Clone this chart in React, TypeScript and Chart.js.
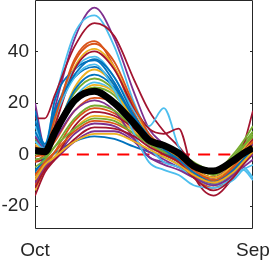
import React, { useEffect, useRef } from "react";
import { Chart, registerables } from "chart.js";

Chart.register(...registerables);

// months since October (Oct = 0, Sep = 11)
const monthPos = [0, 0.5, 1, 2, 3, 4, 5, 5.75, 6.5, 7.25, 8, 9, 10, 10.5, 11];
const xTickPos = [0, 11];
const xTickLabels = ["Oct", "Sep"];
const yTicks = [-20, 0, 20, 40];
const yMin = -28.8;
const yMax = 60;
const zeroLineX = [0, 11];
const zeroLineY = [0, 0];

const meanSeries = [1.5, 1, 8.5, 21, 24.5, 20, 12, 5.5, 3.5, 0.5, -4.5, -6.5, -2.5, 0.3, 2.5];

const s00 = [-6, -3, 0.5, 5, 7, 6, 3, 1, -1, -4, -8, -10, -7, -3, 0];
const s01 = [3, 2, 14, 37, 44, 34, 16, 7, 3, -1, -7, -11, -6, -2, 4];
const s02 = [-9, -3, 7, 26, 33, 27, 14, 6, 2, -2, -7, -9, -4, 0, 6];
const s03 = [20, 3, 18, 45, 57, 45, 24, 10, 4, -1, -8, -12, -7, -3, 2];
const s04 = [6, 2, 8, 21, 26, 23, 13, 6, 3, 1, -3, -6, -1, 4, 9];
const s05 = [11, 4, 21, 47, 54, 42, 20, 8, 2, -3, -9, -11, -9, -5, -9];
const s06 = [14, 14, 23, 42, 51, 46, 29, 17, 9, 3, -4, -12, -6, 3, 17];
const s07 = [17, 2, 21, 33, 36.5, 28, 13, 5, 1, -2, -7, -10, -5, 0, 3];
const s08 = [-12, -5, 1, 13, 18, 16, 10, 5, 1, -2, -6, -9, -5, -1, 4];
const s09 = [4, 1, 12, 34, 41, 34, 18, 7, 2, -1, -5, -8, -3, 2, 7];
const s10 = [-10, -4, -1, 8, 12, 11, 6, 1, -2, -5, -8, -11, -8, -5, -2];
const s11 = [0, 0, 9, 24, 29.5, 25, 13, 6, 2, -1, -4, -7, 0, 5, 11];
const s12 = [8, 2, 16, 33, 38, 30, 17, 11, 18, 3, -6, -12, -8, -6, -10];
const s13 = [-3, -1, 11, 33, 40, 33, 18, 10, 8, 10, -8, -16, -9, -3, 5];
const s14 = [-7, -1, 8, 25, 31, 26, 14, 6, 2, -2, -8, -11, -6, -2, 1];
const s15 = [-3, 0, 5, 17, 22, 20, 12, 5, 1, -3, -9, -13, -8, -3, 3];
const s16 = [-14, -6, -1, 10, 15, 14, 9, 4, 0, -3, -7, -10, -5, -1, 3];
const s17 = [7, 2, 6, 17, 21, 17, 6, -1, -3, -5, -8, -9, -4, 0, 4];
const s18 = [-5, -2, 3, 14, 19, 17, 10, 5, 2, -1, -5, -8, -2, 3, 8];
const s19 = [2, 1, 8, 22, 28, 24, 12, 3, -3, -5, -9, -12, -9, -4, 2];
const s20 = [-16, -7, -2, 11, 16.5, 15, 10, 5, 1, -2, -6, -9, -4, 1, 6];
const s21 = [13, 4, 17, 30, 34, 27, 14, 6, 1, -3, -8, -11, -7, -3, 0];
const s22 = [-8, -3, 1, 9, 13, 12, 8, 4, 0, -3, -8, -11, -6, -2, 2];
const s23 = [1, 1, 7, 21, 27, 24, 13, 6, 2, -1, -6, -9, -4, 1, 5];
const s24 = [-11, -5, -2, 5, 9, 9, 5, -1, -4, -6, -9, -12, -8, -4, 0];
const s25 = [-2, -1, 3, 10, 14, 13, 8, 4, 1, -1, -4, -7, -2, 3, 7];
const s26 = [5, 2, 14, 30, 35, 25, 8, -3, -6, -8, -12, -13, -10, -6, -4];
const s27 = [-13, -6, -2, 6, 10.5, 10, 7, 3, 0, -3, -9, -14, -9, -4, 1];
const s28 = [9, 3, 16, 31, 37, 30, 15, 7, 2, -2, -7, -10, -6, -2, 2];
const s29 = [-1, 1, 14, 36, 43, 36, 19, 8, 3, -1, -6, -10, -5, 0, 5];
const s30 = [-10, -4, -1, 5, 8, 8, 5, 2, -1, -4, -8, -11, -7, -3, 1];

const seriesList = [
  s00, s01, s02, s03, s04, s05, s06, s07, s08, s09, s10,
  s11, s12, s13, s14, s15, s16, s17, s18, s19, s20,
  s21, s22, s23, s24, s25, s26, s27, s28, s29, s30,
];

const palette = ["#0072BD", "#D95319", "#EDB120", "#7E2F8E", "#77AC30", "#4DBEEE", "#A2142F"];

const AXIS_COLOR = "#262626";
const FONT = { family: "'Liberation Sans', Arial, Helvetica, sans-serif", size: 19 };

const boxPlugin = {
  id: "matlabBox",
  beforeDatasetsDraw(chart: any) {
    const { ctx, chartArea: a, scales } = chart;
    const left = Math.round(a.left) + 0.5;
    const right = Math.round(a.right) - 0.5;
    const top = Math.round(a.top) + 0.5;
    const bottom = Math.round(a.bottom) - 0.5;
    ctx.save();
    ctx.strokeStyle = AXIS_COLOR;
    ctx.lineWidth = 1;
    ctx.beginPath();
    ctx.moveTo(left, top);
    ctx.lineTo(right, top);
    ctx.lineTo(right, bottom);
    ctx.lineTo(left, bottom);
    ctx.closePath();
    ctx.stroke();
    const tl = 2.5;
    ctx.beginPath();
    for (const v of yTicks) {
      const y = Math.round(scales.y.getPixelForValue(v)) + 0.5;
      ctx.moveTo(left, y);
      ctx.lineTo(left + tl, y);
      ctx.moveTo(right, y);
      ctx.lineTo(right - tl, y);
    }
    ctx.stroke();
    ctx.restore();
  },
};

export default function App() {
  const ref = useRef<HTMLCanvasElement>(null);

  useEffect(() => {
    if (!ref.current) return;
    const datasets: any[] = [];
    datasets.push({
      data: zeroLineX.map((x, j) => ({ x, y: zeroLineY[j] })),
      borderColor: "#FF0000",
      borderWidth: 2,
      borderDash: [12, 8.2],
      borderDashOffset: -1.5,
      pointRadius: 0,
      order: 1000,
      clip: 0,
    });
    seriesList.forEach((s, i) => {
      datasets.push({
        data: monthPos.map((x, j) => ({ x, y: s[j] })),
        borderColor: palette[i % palette.length],
        borderWidth: 1.8,
        cubicInterpolationMode: "monotone",
        pointRadius: 0,
        borderJoinStyle: "round",
        order: 1 + seriesList.length - i,
        clip: 0,
      });
    });
    datasets.push({
      data: monthPos.map((x, j) => ({ x, y: meanSeries[j] })),
      borderColor: "#000000",
      borderWidth: 7,
      cubicInterpolationMode: "monotone",
      pointRadius: 0,
      borderJoinStyle: "round",
      order: 0,
      clip: 0,
    });

    const chart = new Chart(ref.current, {
      type: "line",
      data: { datasets },
      plugins: [boxPlugin],
      options: {
        animation: false,
        responsive: true,
        maintainAspectRatio: false,
        layout: { padding: { top: 0, right: 20, bottom: 0, left: 0 } },
        plugins: { legend: { display: false }, tooltip: { enabled: false } },
        events: [],
        scales: {
          x: {
            type: "linear",
            min: 0,
            max: 11,
            grid: { display: false, drawTicks: false },
            border: { display: false },
            afterBuildTicks: (scale: any) => {
              scale.ticks = xTickPos.map((v) => ({ value: v }));
            },
            afterFit: (scale: any) => {
              scale.height = 33.5;
              scale.paddingLeft = 0;
              scale.paddingRight = 0;
            },
            ticks: {
              autoSkip: false,
              maxRotation: 0,
              padding: 11,
              color: AXIS_COLOR,
              font: FONT,
              callback: (v: any) => {
                const k = xTickPos.indexOf(Number(v));
                return k >= 0 ? xTickLabels[k] : "";
              },
            },
          },
          y: {
            type: "linear",
            min: yMin,
            max: yMax,
            grid: { display: false, drawTicks: false },
            border: { display: false },
            afterBuildTicks: (scale: any) => {
              scale.ticks = yTicks.map((v) => ({ value: v }));
            },
            afterFit: (scale: any) => {
              scale.width = 35;
              scale.paddingTop = 0;
              scale.paddingBottom = 0;
            },
            ticks: {
              padding: 6,
              color: AXIS_COLOR,
              font: FONT,
            },
          },
        },
      },
    });
    return () => chart.destroy();
  }, []);

  return (
    <div style={{ position: "fixed", left: 0, top: 0, width: 273, height: 262, background: "#fff" }}>
      <canvas ref={ref} />
    </div>
  );
}
